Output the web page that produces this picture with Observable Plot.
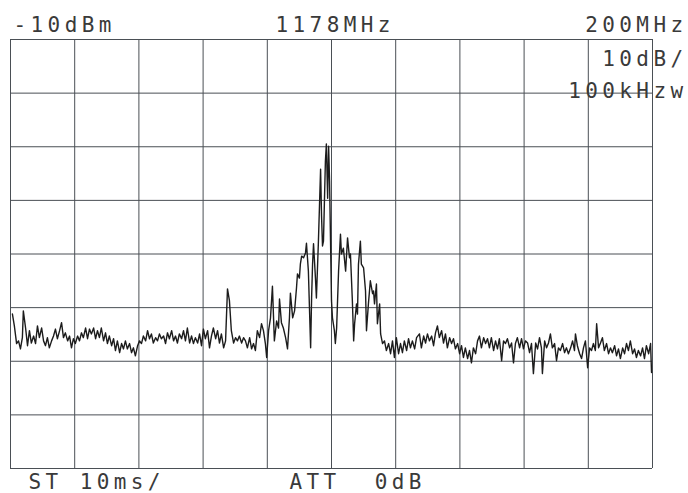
<!DOCTYPE html>
<html>
<head>
<meta charset="utf-8">
<script src="https://cdn.jsdelivr.net/npm/d3@7"></script>
<script src="https://cdn.jsdelivr.net/npm/@observablehq/plot@0.6"></script>
<style>
  html, body { margin: 0; padding: 0; background: #fff; }
  svg text { letter-spacing: 4.4px; }
</style>
</head>
<body>
<script>
// Spectrum analyzer settings (MHz, dBm)
const freqGrid = [1078, 1098, 1118, 1138, 1158, 1178, 1198, 1218, 1238, 1258, 1278];
const levelGrid = [-10, -20, -30, -40, -50, -60, -70, -80, -90];

const headerLeft = ["-10dBm"];
const headerCenter = ["1178MHz"];
const headerRight = ["200MHz"];
const scaleLabel = ["10dB/"];
const rbwLabel = ["100kHzw"];
const sweepLabel = ["ST 10ms/"];
const attLabel = ["ATT  0dB"];

// Trace, [frequency MHz, level dBm]
const noiseLeft = [
  [1078.6,-61.2],[1079.2,-63.4],[1079.9,-66.7],[1080.5,-66.2],[1081.1,-67.7],[1081.7,-65.6],[1082.0,-60.6],
  [1082.7,-63.8],[1083.3,-67.1],[1083.9,-64.3],[1084.5,-66.6],[1085.2,-65.3],[1085.8,-66.7],[1086.4,-63.4],
  [1087.0,-65.6],[1087.7,-63.8],[1088.3,-66.2],[1088.9,-67.1],[1089.5,-65.6],[1090.1,-67.5],[1090.8,-66.2],
  [1091.4,-65.3],[1092.0,-64.0],[1092.6,-65.8],[1093.3,-64.3],[1093.9,-62.8],[1094.5,-65.6],[1095.1,-64.7],
  [1095.8,-66.2],[1096.4,-65.3],[1097.0,-67.5],[1097.6,-65.8],[1098.2,-66.7],[1098.9,-65.3],[1099.5,-66.2],
  [1100.1,-64.7],[1100.7,-65.6],[1101.4,-63.8],[1102.0,-65.8],[1102.6,-64.0],[1103.2,-64.9],[1103.9,-63.8],
  [1104.5,-65.8],[1105.1,-64.3],[1105.7,-65.6],[1106.3,-63.8],[1107.0,-66.2],[1107.6,-64.7],[1108.2,-66.7],
  [1108.8,-65.3],[1109.5,-67.1],[1110.1,-65.8],[1110.7,-68.0],[1111.3,-66.2],[1112.0,-68.4],[1112.6,-66.7],
  [1113.2,-67.7],[1113.8,-66.2],[1114.4,-67.7],[1115.1,-66.7],[1115.7,-68.4],[1116.3,-67.5],[1116.9,-69.0],
  [1117.6,-67.1],[1118.2,-66.2],[1118.8,-66.7],[1119.4,-65.3],[1120.1,-66.2],[1120.7,-64.3],[1121.3,-65.8],
  [1121.9,-64.9],[1122.5,-66.6],[1123.2,-65.6],[1123.8,-66.2],[1124.4,-64.9],[1125.0,-65.8],[1125.7,-65.3],
  [1126.3,-66.7],[1126.9,-64.7],[1127.5,-65.8],[1128.2,-64.3],[1128.8,-66.2],[1129.4,-65.3],[1130.0,-66.6],
  [1130.6,-64.9],[1131.3,-65.8],[1131.9,-64.3],[1132.5,-66.2],[1133.1,-63.8],[1133.8,-66.6],[1134.4,-65.3],
  [1135.0,-66.7],[1135.6,-65.6],[1136.3,-66.6],[1136.9,-64.9],[1137.5,-67.1],[1138.1,-64.0],[1138.7,-65.8],
  [1139.4,-64.3],[1140.0,-67.5],[1140.6,-65.3],[1141.2,-63.8],[1141.9,-65.8],[1142.5,-64.3],[1143.1,-66.6],
  [1143.7,-64.9],[1144.4,-67.5],[1145.0,-66.2],[1145.6,-56.5],[1146.2,-58.7],[1146.8,-64.3],[1147.5,-66.6],
  [1148.1,-65.6],[1148.7,-66.2],[1149.3,-65.3],[1150.0,-66.6],[1150.6,-65.6],[1151.2,-66.2],[1151.8,-67.5],
  [1152.5,-65.6]
];
const signal = [
  [1153.1,-67.7],[1153.7,-66.7],[1154.3,-68.0],[1154.9,-64.3],[1155.6,-65.6],[1156.2,-63.0],[1156.8,-64.3],
  [1157.4,-66.7],[1157.8,-69.3],[1158.4,-64.3],[1159.0,-61.9],[1159.6,-56.0],[1160.2,-66.2],[1160.9,-62.5],
  [1161.5,-63.8],[1161.8,-58.4],[1162.4,-62.8],[1163.0,-63.8],[1163.7,-65.6],[1164.3,-67.7],[1164.9,-61.9],
  [1165.2,-57.3],[1165.9,-61.9],[1166.5,-60.6],[1167.1,-56.3],[1167.4,-53.7],[1168.0,-54.5],[1168.3,-51.9],
  [1168.7,-50.4],[1169.3,-50.7],[1169.9,-49.8],[1170.2,-48.0],[1170.8,-53.2],[1171.5,-67.5],[1171.8,-58.2],
  [1172.1,-51.9],[1172.4,-48.1],[1173.0,-54.5],[1173.3,-58.2],[1173.9,-48.1],[1174.6,-34.2],[1174.9,-42.9],
  [1175.2,-48.5],[1175.5,-47.6],[1175.8,-40.1],[1176.1,-32.7],[1176.4,-29.5],[1176.8,-39.6],[1177.1,-29.9],
  [1177.4,-36.4],[1177.7,-47.6],[1178.0,-58.7],[1178.3,-61.9],[1178.9,-64.3],[1179.2,-66.7],[1179.6,-63.8],
  [1180.2,-53.2],[1180.8,-46.3],[1181.1,-50.0],[1181.7,-48.9],[1182.4,-53.2],[1183.0,-47.0],[1183.6,-50.7],
  [1183.9,-50.0],[1184.5,-58.7],[1184.9,-66.2],[1185.2,-63.0],[1185.8,-59.3],[1186.1,-61.2],[1186.4,-51.9],
  [1187.0,-47.6],[1187.3,-51.9],[1188.0,-52.6],[1188.6,-56.9],[1188.9,-64.3],[1189.5,-59.3],[1190.1,-55.0],
  [1190.8,-57.4],[1191.1,-56.9],[1191.4,-59.3],[1192.0,-55.6],[1192.3,-63.0],[1193.0,-59.3],[1193.3,-64.9],
  [1193.9,-66.7],[1194.5,-66.2],[1195.1,-68.0],[1195.8,-66.7],[1196.4,-68.6],[1197.0,-66.2],[1197.6,-69.3],
  [1198.2,-65.6],[1198.9,-68.6],[1199.5,-66.7],[1200.1,-68.4],[1200.7,-66.2]
];
const noiseRight = [
  [1201.4,-68.0],[1202.0,-65.8],[1202.6,-67.5],[1203.2,-66.2],[1203.9,-67.7],[1204.5,-65.6],[1205.4,-64.9],
  [1206.0,-67.5],[1206.7,-65.3],[1207.3,-66.6],[1207.9,-64.9],[1208.5,-66.2],[1209.2,-65.3],[1209.8,-67.1],
  [1210.4,-64.7],[1211.0,-63.4],[1211.6,-65.6],[1212.3,-64.3],[1212.9,-66.6],[1213.5,-64.9],[1214.1,-67.5],
  [1214.8,-65.6],[1215.4,-66.7],[1216.0,-65.8],[1216.6,-67.7],[1217.3,-66.7],[1217.9,-68.6],[1218.5,-67.1],
  [1219.1,-69.3],[1219.7,-67.5],[1220.4,-69.5],[1221.0,-68.0],[1221.6,-70.3],[1222.2,-67.5],[1222.9,-68.6],
  [1223.5,-66.2],[1224.1,-65.3],[1224.7,-67.5],[1225.4,-65.6],[1226.0,-66.7],[1226.6,-65.8],[1227.2,-67.5],
  [1227.8,-65.6],[1228.5,-68.0],[1229.1,-66.2],[1229.7,-67.7],[1230.3,-65.8],[1231.0,-69.9],[1231.6,-66.2],
  [1232.2,-66.7],[1232.8,-65.8],[1233.5,-67.5],[1234.1,-66.6],[1234.7,-70.3],[1235.3,-66.7],[1235.9,-65.6],
  [1236.6,-67.5],[1237.2,-65.8],[1237.8,-67.7],[1238.4,-66.2],[1239.1,-66.6],[1239.7,-68.4],[1240.3,-66.7],
  [1240.9,-72.3],[1241.6,-66.6],[1242.2,-67.7],[1242.8,-65.6],[1243.4,-67.5],[1243.7,-72.3],[1244.4,-66.2],
  [1245.0,-67.5],[1245.6,-66.6],[1246.2,-64.9],[1246.8,-67.5],[1247.5,-66.7],[1248.1,-69.9],[1248.7,-67.5],
  [1249.3,-68.0],[1250.0,-66.7],[1250.6,-68.4],[1251.2,-67.5],[1251.8,-68.6],[1252.5,-67.5],[1253.1,-66.2],
  [1253.7,-68.0],[1254.0,-64.9],[1254.6,-67.1],[1255.3,-68.6],[1255.9,-69.5],[1256.5,-67.5],[1257.1,-66.2],
  [1257.8,-71.2],[1258.4,-67.5],[1259.0,-68.0],[1259.6,-66.7],[1260.2,-68.0],[1260.6,-63.0],[1261.2,-67.5],
  [1261.8,-66.6],[1262.4,-65.6],[1263.0,-68.0],[1263.7,-66.7],[1264.3,-68.6],[1264.9,-67.5],[1265.5,-68.4],
  [1266.2,-67.1],[1266.8,-69.0],[1267.4,-67.7],[1268.0,-69.5],[1268.7,-67.5],[1269.3,-68.6],[1269.9,-66.7],
  [1270.5,-68.0],[1271.1,-66.2],[1271.8,-68.6],[1272.4,-67.7],[1273.0,-69.3],[1273.6,-68.0],[1274.3,-69.0],
  [1274.9,-67.5],[1275.5,-69.5],[1276.1,-67.1],[1276.8,-68.6],[1277.4,-66.7],[1277.7,-72.1]
];

const trace = [...noiseLeft, ...signal, ...noiseRight];

const textStyle = {
  fontFamily: "'DejaVu Sans Mono', monospace",
  fontSize: 21,
  fill: "#3a3a3a",
  lineAnchor: "middle"
};

const chart = Plot.plot({
  width: 688,
  height: 493,
  marginLeft: 10,
  marginRight: 36,
  marginTop: 39,
  marginBottom: 25,
  style: {background: "#fff"},
  x: {domain: [1078, 1278], axis: null},
  y: {domain: [-90, -10], axis: null},
  marks: [
    Plot.ruleX(freqGrid, {stroke: "#4a4f55", strokeWidth: 1}),
    Plot.ruleY(levelGrid, {stroke: "#4a4f55", strokeWidth: 1}),
    Plot.line(trace, {x: d => d[0], y: d => d[1], stroke: "#1c1c1c", strokeWidth: 1.4, curve: "linear"}),
    Plot.text(headerLeft, {...textStyle, textAnchor: "start", frameAnchor: "top-left", dx: 3, dy: -14.7}),
    Plot.text(headerCenter, {...textStyle, textAnchor: "start", frameAnchor: "top-left", dx: 265, dy: -14.7}),
    Plot.text(headerRight, {...textStyle, textAnchor: "end", frameAnchor: "top-right", dx: 35, dy: -14.7}),
    Plot.text(scaleLabel, {...textStyle, textAnchor: "end", frameAnchor: "top-right", dx: 35, dy: 19.3}),
    Plot.text(rbwLabel, {...textStyle, textAnchor: "end", frameAnchor: "top-right", dx: 35, dy: 51.3}),
    Plot.text(sweepLabel, {...textStyle, textAnchor: "start", frameAnchor: "bottom-left", dx: 18, dy: 13.3}),
    Plot.text(attLabel, {...textStyle, textAnchor: "start", frameAnchor: "bottom-left", dx: 279, dy: 13.3})
  ]
});
document.body.appendChild(chart);
</script>
</body>
</html>
